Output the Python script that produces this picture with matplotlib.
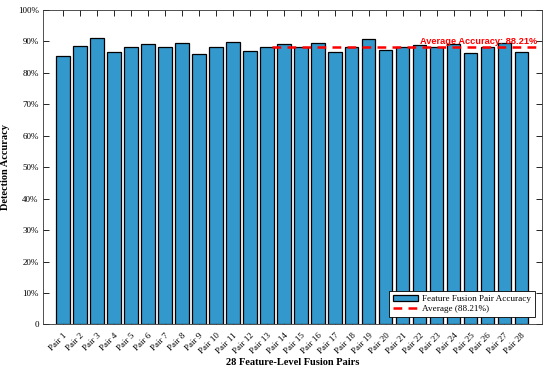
import matplotlib.pyplot as plt
import numpy as np

#--------------- Style ---------------------
plt.rcParams['font.family'] = 'serif'
plt.rcParams['font.serif'] = ['Liberation Serif', 'DejaVu Serif']
plt.rcParams['font.size'] = 6.5
plt.rcParams['xtick.direction'] = 'in'
plt.rcParams['ytick.direction'] = 'in'

#--------------- Data ----------------------
pairs = ["Pair %d" % i for i in range(1, 29)]
accuracy = [85.3, 88.6, 91.2, 86.6, 88.2, 89.1, 88.2, 89.6, 86.1, 88.2,
            89.9, 87.1, 88.2, 89.3, 88.2, 89.6, 86.6, 88.2, 90.9, 87.2,
            88.2, 89.0, 88.2, 89.2, 86.3, 88.2, 89.6, 86.8]
avg_acc = 88.21
yticks = [0, 10, 20, 30, 40, 50, 60, 70, 80, 90, 100]
ytick_labels = ["0"] + ["%d%%" % v for v in yticks[1:]]

#---------------- Graph ------------------
fig = plt.figure(figsize=(5.5, 3.72), dpi=100)
ax = fig.add_axes([0.078, 0.128, 0.907, 0.845])

x = np.arange(1, len(accuracy) + 1)
bars = ax.bar(x, accuracy, width=0.8, color='#3399cc', edgecolor='black',
              linewidth=0.9, label='Feature Fusion Pair Accuracy', zorder=2)
avg_line = ax.hlines(avg_acc, 13.3, 29.2, colors='red', linestyles=(0, (3.5, 2.5)),
                     linewidth=1.8, label='Average (%.2f%%)' % avg_acc, zorder=3)
ax.text(28.95, avg_acc + 0.5, 'Average Accuracy: %.2f%%' % avg_acc,
        color='red', fontweight='bold', family='Liberation Sans',
        fontsize=6.7, ha='right', va='bottom', zorder=4)

ax.set_xlim(-0.2, 29.2)
ax.set_ylim(0, 100)
ax.set_xticks(x)
ax.set_xticklabels(pairs, rotation=45, ha='right', rotation_mode='anchor')
ax.set_yticks(yticks)
ax.set_yticklabels(ytick_labels)
ax.tick_params(top=True, right=True, length=4, width=0.6, pad=3)
ax.tick_params(axis='x', pad=5)
for s in ax.spines.values():
    s.set_linewidth(0.6)
    s.set_color('#333333')

ax.set_xlabel("28 Feature-Level Fusion Pairs", fontweight='bold', fontsize=7.5, labelpad=2)
ax.set_ylabel("Detection Accuracy", fontweight='bold', fontsize=7.5, labelpad=6)

leg = ax.legend([bars, avg_line],
                ['Feature Fusion Pair Accuracy', 'Average (%.2f%%)' % avg_acc],
                loc='lower right', fontsize=6.6, fancybox=False, framealpha=1,
                edgecolor='black', handlelength=2.8, borderpad=0.4,
                labelspacing=0.15, handletextpad=0.4,
                bbox_to_anchor=(0.995, 0.01))
leg.get_frame().set_linewidth(0.6)

fig.savefig("out.png", dpi=100)
